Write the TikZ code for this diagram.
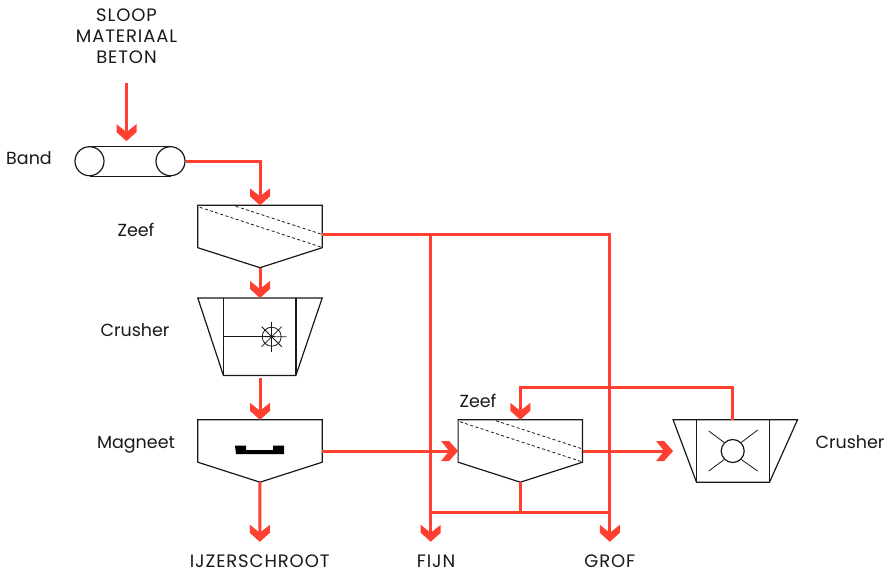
\documentclass[tikz,border=0pt]{standalone}
\usepackage{fontspec}
\setmainfont{Poppins}
\usetikzlibrary{arrows.meta,calc}
\definecolor{flowred}{HTML}{FF4030}

% blunt chevron head of the flow lines
\pgfdeclarearrow{
  name=Chevron,
  setup code={
    \pgfarrowssetbackend{0pt}
    \pgfarrowssetvisualbackend{8pt}
    \pgfarrowssetlineend{8pt}
    \pgfarrowssetvisualtipend{17pt}
    \pgfarrowssettipend{17pt}
  },
  drawing code={
    \pgfsetfillcolor{flowred}
    \pgfpathmoveto{\pgfqpoint{17pt}{0pt}}
    \pgfpathlineto{\pgfqpoint{8pt}{10pt}}
    \pgfpathlineto{\pgfqpoint{0pt}{10pt}}
    \pgfpathlineto{\pgfqpoint{8pt}{0pt}}
    \pgfpathlineto{\pgfqpoint{0pt}{-10pt}}
    \pgfpathlineto{\pgfqpoint{8pt}{-10pt}}
    \pgfpathclose
    \pgfusepathqfill
  }
}

% machine outlines, drawn round an empty node
\newcommand{\hopperline}[1]{%
  \draw[outline] (#1.north west) -- (#1.north east) -- ($(#1.south east)+(0,-20)$)
    -- (#1.south) -- ($(#1.south west)+(0,-20)$) -- cycle;}
\newcommand{\sieveline}[1]{%
  \draw[sieve] ($(#1.north west)+(2,2)$) -- ($(#1.north west)+(124,42)$);
  \draw[sieve] ($(#1.north west)+(38,1)$) -- ($(#1.north west)+(124,29)$);}
\newcommand{\crusherline}[3]{%
  \draw[outline] (#1.north west) -- (#1.north east) -- ($(#1.south east)+(-#3,0)$)
    -- ($(#1.south west)+(#2,0)$) -- cycle;
  \draw[outline] ($(#1.north west)+(#2,0)$) -- ($(#1.south west)+(#2,0)$);
  \draw[outline] ($(#1.north east)+(-#3,0)$) -- ($(#1.south east)+(-#3,0)$);}

\begin{document}
\begin{tikzpicture}[
  x=1pt, y=-1pt,
  font=\fontsize{17.5}{21}\selectfont,
  every node/.style={align=center, text=black!90},
  >=Chevron,
  outline/.style={draw=black!90, line width=1.2pt},
  sieve/.style={draw=black!90, line width=0.8pt, dash pattern=on 3pt off 2.4pt},
  spoke/.style={draw=black!90, line width=0.8pt},
  flow/.style={draw=flowred, line width=3pt},
  machine/.style={minimum width=124pt, minimum height=62pt, inner sep=0pt},
  roll/.style={circle, outline, minimum size=29pt, inner sep=0pt},
  capslabel/.style={font=\fontsize{18}{21}\selectfont\addfontfeatures{LetterSpace=5}},
  endlabel/.style={capslabel, inner sep=0pt, text height=12pt, text depth=0pt},
]
  \useasboundingbox (0,0) rectangle (892,571);

  \node[capslabel] (source) at (126.5,36) {SLOOP\\MATERIAAL\\BETON};
  \node (bandlabel) at (29,158) {Band};
  \node (zeefalabel) at (136,230) {Zeef};
  \node (crusheralabel) at (135,330) {Crusher};
  \node (magnetlabel) at (136,445) {Magneet};
  \node (zeefblabel) at (478,401) {Zeef};
  \node (crusherblabel) at (850,442) {Crusher};
  \node[endlabel] (scrap) at (259.7,561) {IJZERSCHROOT};
  \node[endlabel] (fijn) at (436,561) {FIJN};
  \node[endlabel] (grof) at (609.8,561) {GROF};

  % band
  \node[roll] (rolla) at (89.5,161.2) {};
  \node[roll] (rollb) at (170.5,161.2) {};
  \draw[outline] (rolla.north) -- (rollb.north);
  \draw[outline] (rolla.south) -- (rollb.south);

  % machines
  \node[machine] (zeefa) at (260,236.5) {};
  \node[machine, minimum height=77pt] (crushera) at (260,336.7) {};
  \node[machine] (magnet) at (260,451) {};
  \node[machine] (zeefb) at (520.3,451) {};
  \node[machine] (crusherb) at (735.3,451) {};
  \hopperline{zeefa} \sieveline{zeefa}
  \crusherline{crushera}{25.6}{26.3}
  \hopperline{magnet}
  \hopperline{zeefb} \sieveline{zeefb}
  \crusherline{crusherb}{23.4}{28}

  % rotor of the first crusher
  \node[circle, spoke, minimum size=19pt, inner sep=0pt] (rotora) at (271.7,336.7) {};
  \draw[spoke] ($(crushera.north west)+(25.6,38.4)$) -- ($(rotora)+(15,0)$);
  \draw[spoke] ($(rotora)+(0,-15)$) -- ($(rotora)+(0,15)$);
  \draw[spoke] ($(rotora)+(-10,-10)$) -- ($(rotora)+(10,10)$);
  \draw[spoke] ($(rotora)+(-10,10)$) -- ($(rotora)+(10,-10)$);

  % rotor of the second crusher
  \node[circle, outline, minimum size=23pt, inner sep=0pt] (rotorb) at (732.7,451) {};
  \draw[spoke] ($(rotorb)+(-24,-20)$) -- (rotorb.north west);
  \draw[spoke] ($(rotorb)+(25,-21)$) -- (rotorb.north east);
  \draw[spoke] ($(rotorb)+(-24,20)$) -- (rotorb.south west);
  \draw[spoke] ($(rotorb)+(25,20)$) -- (rotorb.south east);

  % magnet plate
  \fill[black] (235,445.7) -- (246,445.7) -- (246,450) -- (273,450) -- (273,445.7)
    -- (284,445.7) -- (284,454) -- (236,454) -- cycle;

  % flows
  \coordinate (zeefaout) at (322,234);
  \coordinate (fijnsplit) at (430.7,234);
  \coordinate (barjoin) at (520.3,512);
  \draw[flow, ->, shorten <=16pt, shorten >=5pt] (source.south) -- (source.south|-rolla.north);
  \draw[flow, ->] (rollb.east) -| (zeefa.north);
  \draw[flow, ->] (zeefa.south) -- (crushera.north);
  \draw[flow, ->, shorten <=3pt] (crushera.south) -- (magnet.north);
  \draw[flow, ->, shorten >=13pt] (magnet.south) -- (scrap.north);
  \draw[flow, ->, shorten >=13pt] (zeefaout) -| (grof.north);
  \draw[flow, ->, shorten >=13pt] (fijnsplit) -- (fijnsplit|-fijn.north);
  \draw[flow, ->] (magnet.east) -- (zeefb.west);
  \draw[flow, ->] (zeefb.east) -- (crusherb.west);
  \draw[flow] (zeefb.south) -- (barjoin);
  \draw[flow] (fijnsplit|-barjoin) -- (grof.north|-barjoin);
  \draw[flow, ->] (rotorb|-crusherb.north) -- ++(0,-32) -| (zeefb.north);
\end{tikzpicture}
\end{document}
